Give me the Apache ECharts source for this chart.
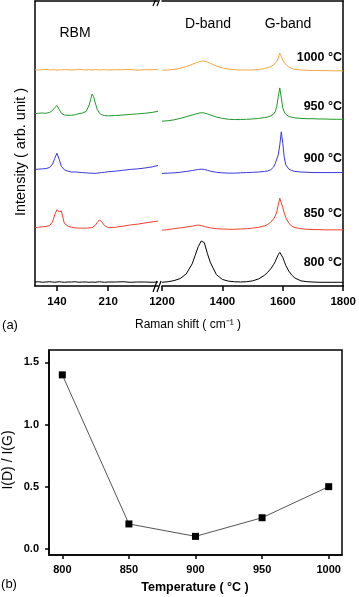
<!DOCTYPE html>
<html>
<head>
<meta charset="utf-8">
<script src="https://cdn.jsdelivr.net/npm/echarts@6/dist/echarts.min.js"></script>
<style>
html, body { margin: 0; padding: 0; background: #fff; }
#main { width: 359px; height: 597px; }
</style>
</head>
<body>
<div id="main"></div>
<script>
// Raman shift positions (cm-1) for the RBM part and the D/G part
var leftX = [110,115,120,125,130,134,137,140,143,146,150,155,160,165,170,175,180,184,186,188,190,192,195,198,201,205,210,220,230,240,250,260,270,278];
var rightX = [1200,1220,1240,1260,1280,1300,1310,1320,1330,1340,1350,1360,1380,1400,1420,1440,1460,1480,1500,1520,1540,1550,1560,1570,1575,1580,1585,1590,1595,1600,1605,1610,1620,1630,1640,1660,1680,1700,1720,1740,1760,1780,1800];

// intensities (arb. unit, spectra already stacked)
var rbm1000 = [75.9,75.8,75.9,76.0,75.8,75.9,75.9,75.7,75.9,75.8,75.9,75.9,75.8,75.9,76.0,75.9,75.8,75.9,75.9,75.8,75.9,75.9,75.9,75.8,75.9,75.9,75.8,75.9,75.9,76.0,75.7,75.9,75.9,75.9];
var rbm950 = [60.5,60.6,60.7,60.6,60.9,61.6,62.6,63.3,62.0,60.6,60.0,59.9,59.9,60.1,60.5,60.7,61.3,63.5,65.5,67.3,66.5,64.5,62.0,60.6,60.1,59.8,59.7,59.8,60.0,60.2,60.4,60.6,60.9,61.3];
var rbm900 = [40.9,41.0,41.1,41.2,41.6,42.8,44.8,46.6,44.5,42.0,40.8,40.3,40.0,40.0,39.9,39.8,39.7,39.6,39.6,39.6,39.6,39.5,39.6,39.7,39.8,39.9,40.1,40.3,40.6,40.9,41.1,41.4,41.8,42.3];
var rbm850 = [20.5,20.6,20.8,20.9,21.2,22.5,25.0,26.8,26.0,26.3,22.0,21.0,20.6,20.4,20.3,20.3,20.3,20.4,20.4,20.5,20.7,21.2,22.3,23.2,22.6,21.2,20.5,20.6,21.0,21.4,21.7,22.1,22.5,22.8];
var rbm800 = [1.4,1.5,1.3,1.4,1.5,1.4,1.3,1.4,1.5,1.4,1.3,1.4,1.4,1.5,1.3,1.4,1.4,1.3,1.5,1.4,1.4,1.3,1.4,1.5,1.4,1.3,1.4,1.4,1.5,1.3,1.4,1.4,1.3,1.4];

var dg1000 = [75.7,75.8,76.0,76.4,77.0,77.8,78.2,78.6,78.9,78.9,78.6,78.1,77.2,76.5,76.1,75.9,75.8,75.8,75.8,76.0,76.3,76.6,77.0,77.6,78.0,78.8,80.0,81.7,80.6,79.3,78.3,77.6,76.8,76.3,76.0,75.8,75.7,75.6,75.6,75.6,75.5,75.5,75.5];
var dg950 = [57.8,58.0,58.3,58.8,59.4,60.0,60.3,60.6,60.8,60.7,60.4,60.0,59.3,58.8,58.5,58.4,58.4,58.5,58.6,58.8,59.1,59.3,59.7,60.4,61.2,63.0,66.5,69.5,66.0,62.5,61.0,60.2,59.5,59.2,59.0,58.8,58.7,58.7,58.6,58.6,58.5,58.5,58.5];
var dg900 = [39.5,39.6,39.7,39.9,40.2,40.5,40.7,40.9,41.0,40.9,40.6,40.3,39.9,39.7,39.6,39.6,39.7,39.8,39.9,40.0,40.2,40.4,40.8,41.8,43.0,44.5,46.0,49.5,54.1,50.0,45.0,42.5,41.0,40.5,40.2,40.0,39.9,39.8,39.8,39.8,39.8,39.8,39.8];
var dg850 = [19.6,19.8,20.1,20.4,20.7,21.0,21.2,21.4,21.2,20.9,20.6,20.4,20.1,20.0,19.9,19.9,20.0,20.1,20.3,20.6,21.1,21.6,22.4,23.6,24.6,26.0,28.5,30.8,30.5,27.5,25.5,24.0,22.0,21.0,20.5,20.1,19.9,19.8,19.8,19.7,19.7,19.7,19.7];
var dg800 = [1.3,1.5,1.9,2.6,4.2,7.8,10.8,13.8,15.8,15.2,11.5,8.3,4.0,2.3,1.7,1.5,1.4,1.5,1.8,2.5,3.8,4.8,6.0,7.6,8.6,9.8,11.0,11.8,11.3,10.0,8.6,7.2,5.2,3.8,2.8,1.8,1.5,1.4,1.3,1.3,1.3,1.3,1.3];

var spectraNames = ['1000 °C', '950 °C', '900 °C', '850 °C', '800 °C'];
var spectraColors = ['#f7a640', '#22992a', '#3838dd', '#f2402e', '#000000'];
var rbmSets = [rbm1000, rbm950, rbm900, rbm850, rbm800];
var dgSets = [dg1000, dg950, dg900, dg850, dg800];

// panel (b)
var temperature = [800, 850, 900, 950, 1000];
var ratioDG = [1.4, 0.2, 0.1, 0.25, 0.5];
var tempTicks = [800, 850, 900, 950, 1000];
var ratioTicks = [0, 0.5, 1.0, 1.5];

var myChart = echarts.init(document.getElementById('main'));

function pairs(xs, ys) {
    return xs.map(function (x, i) { return [x, ys[i]]; });
}
function plain(v) { return String(v); }

var ax = { color: '#000', width: 1.5 };
var font = 'Liberation Sans, Arial';
var tickFont = { color: '#000', fontFamily: font, fontWeight: 'bold', fontSize: 11.5, formatter: plain };

var series = [];
rbmSets.forEach(function (d, i) {
    series.push({
        name: spectraNames[i], type: 'line', xAxisIndex: 0, yAxisIndex: 0,
        data: pairs(leftX, d), showSymbol: false, symbol: 'none',
        lineStyle: { color: spectraColors[i], width: 1 }, silent: true
    });
});
dgSets.forEach(function (d, i) {
    series.push({
        name: spectraNames[i], type: 'line', xAxisIndex: 2, yAxisIndex: 1,
        data: pairs(rightX, d), showSymbol: false, symbol: 'none',
        lineStyle: { color: spectraColors[i], width: 1 }, silent: true
    });
});
series.push({
    type: 'line', xAxisIndex: 4, yAxisIndex: 2,
    data: pairs(temperature, ratioDG),
    symbol: 'rect', symbolSize: 7,
    itemStyle: { color: '#000' },
    lineStyle: { color: '#555', width: 1 }
});

var labelY = [58, 107, 159, 214, 263];
var graphics = [];
spectraNames.forEach(function (n, i) {
    graphics.push({
        type: 'text', x: 342, y: labelY[i],
        style: { text: n, fill: '#000', align: 'right', verticalAlign: 'middle',
                 fontSize: 12.5, fontWeight: 'bold', fontFamily: font }
    });
});
function txt(t, x, y, size, weight, rot) {
    return {
        type: 'text', x: x, y: y, rotation: rot || 0,
        style: { text: t, fill: '#000', align: 'center', verticalAlign: 'middle',
                 fontSize: size, fontWeight: weight || 'normal', fontFamily: font }
    };
}
graphics.push(txt('RBM', 75, 33, 14));
graphics.push(txt('D-band', 208, 24, 14));
graphics.push(txt('G-band', 288, 24, 14));
graphics.push(txt('Intensity ( arb. unit )', 21, 152, 14.5, 'normal', Math.PI / 2));
graphics.push(txt('Raman shift ( cm⁻¹ )', 188, 325, 12));
graphics.push(txt('(a)', 10, 325, 13));
graphics.push(txt('(b)', 9, 584, 13));
graphics.push(txt('I(D) / I(G)', 8, 460, 14, 'normal', Math.PI / 2));
graphics.push(txt('Temperature ( °C )', 195, 588, 12.5, 'bold'));
// axis break marks
[[153, 292, 157, 281], [157, 292, 161, 281], [153, 6, 157, -4], [157, 6, 161, -4]].forEach(function (s) {
    graphics.push({ type: 'line', shape: { x1: s[0], y1: s[1], x2: s[2], y2: s[3] }, style: { stroke: '#000', lineWidth: 1.2 } });
});

var option = {
    backgroundColor: '#fff',
    animation: false,
    grid: [
        { left: 35, top: 1, width: 123, height: 285 },
        { left: 162, top: 1, width: 184, height: 285 },
        { left: 49, top: 350, width: 293, height: 205, show: true, borderColor: '#000', borderWidth: 1.5 }
    ],
    xAxis: [
        { type: 'value', gridIndex: 0, min: 110, max: 278,
          axisLine: { onZero: false, lineStyle: ax },
          axisTick: { customValues: [140, 210], length: 5, lineStyle: ax },
          axisLabel: Object.assign({ customValues: [140, 210], margin: 10 }, tickFont),
          splitLine: { show: false } },
        { type: 'value', gridIndex: 0, position: 'top', min: 110, max: 278,
          axisLine: { onZero: false, lineStyle: ax }, axisTick: { show: false }, axisLabel: { show: false }, splitLine: { show: false } },
        { type: 'value', gridIndex: 1, min: 1200, max: 1800, interval: 200,
          axisLine: { onZero: false, lineStyle: ax },
          axisTick: { length: 5, lineStyle: ax },
          axisLabel: Object.assign({ margin: 10 }, tickFont),
          splitLine: { show: false } },
        { type: 'value', gridIndex: 1, position: 'top', min: 1200, max: 1800,
          axisLine: { onZero: false, lineStyle: ax }, axisTick: { show: false }, axisLabel: { show: false }, splitLine: { show: false } },
        { type: 'value', gridIndex: 2, min: 790, max: 1010,
          axisLine: { onZero: false, lineStyle: ax },
          axisTick: { customValues: tempTicks, length: 4, lineStyle: ax },
          axisLabel: { customValues: tempTicks, margin: 9, color: '#000', fontSize: 11, fontWeight: 'bold', fontFamily: font, formatter: plain },
          splitLine: { show: false } }
    ],
    yAxis: [
        { type: 'value', gridIndex: 0, min: 0, max: 100,
          axisLine: { show: true, onZero: false, lineStyle: ax }, axisTick: { show: false }, axisLabel: { show: false }, splitLine: { show: false } },
        { type: 'value', gridIndex: 1, position: 'right', min: 0, max: 100,
          axisLine: { show: true, onZero: false, lineStyle: ax }, axisTick: { show: false }, axisLabel: { show: false }, splitLine: { show: false } },
        { type: 'value', gridIndex: 2, min: -0.05, max: 1.6,
          axisLine: { show: true, onZero: false, lineStyle: ax },
          axisTick: { customValues: ratioTicks, length: 4, lineStyle: ax },
          axisLabel: { customValues: ratioTicks, margin: 10, color: '#000', fontSize: 11, fontWeight: 'bold', fontFamily: font,
                       formatter: function (v) { return v.toFixed(1); } },
          splitLine: { show: false } }
    ],
    series: series,
    graphic: graphics
};

myChart.setOption(option);
</script>
</body>
</html>
